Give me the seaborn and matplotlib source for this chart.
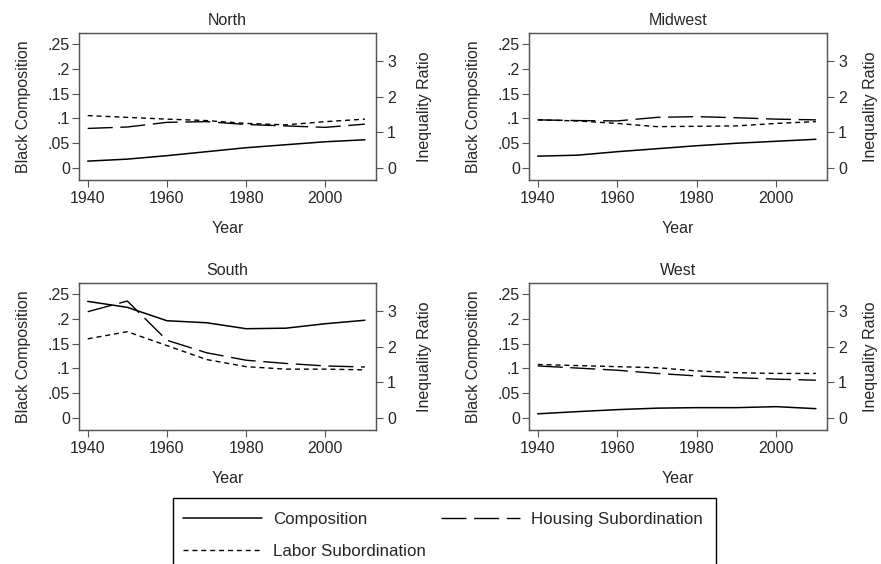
import matplotlib
matplotlib.use("Agg")
import matplotlib.pyplot as plt
import seaborn as sns
import pandas as pd
from matplotlib.lines import Line2D
from matplotlib.patches import Rectangle

sns.set_style("white")
plt.rcParams['font.family'] = ['Liberation Sans', 'DejaVu Sans']

years = [1940, 1950, 1960, 1970, 1980, 1990, 2000, 2010]
regions = ["North", "Midwest", "South", "West"]

north_comp = [0.014, 0.018, 0.025, 0.033, 0.041, 0.047, 0.053, 0.057]
north_housing = [1.11, 1.15, 1.28, 1.30, 1.22, 1.18, 1.14, 1.23]
north_labor = [1.47, 1.42, 1.37, 1.33, 1.25, 1.21, 1.30, 1.37]

midwest_comp = [0.024, 0.026, 0.033, 0.039, 0.045, 0.050, 0.054, 0.058]
midwest_housing = [1.35, 1.33, 1.32, 1.42, 1.44, 1.41, 1.37, 1.35]
midwest_labor = [1.35, 1.32, 1.25, 1.16, 1.17, 1.18, 1.25, 1.30]

south_comp = [0.235, 0.223, 0.196, 0.192, 0.180, 0.181, 0.190, 0.197]
south_housing = [2.98, 3.28, 2.18, 1.83, 1.62, 1.53, 1.46, 1.43]
south_labor = [2.22, 2.42, 2.03, 1.64, 1.44, 1.37, 1.37, 1.35]

west_comp = [0.0086, 0.013, 0.017, 0.020, 0.021, 0.021, 0.023, 0.019]
west_housing = [1.46, 1.40, 1.34, 1.25, 1.18, 1.13, 1.09, 1.06]
west_labor = [1.50, 1.47, 1.44, 1.41, 1.32, 1.27, 1.25, 1.25]

comp = {"North": north_comp, "Midwest": midwest_comp, "South": south_comp, "West": west_comp}
housing = {"North": north_housing, "Midwest": midwest_housing, "South": south_housing, "West": west_housing}
labor = {"North": north_labor, "Midwest": midwest_labor, "South": south_labor, "West": west_labor}

left_ticks = [0, 0.05, 0.1, 0.15, 0.2, 0.25]
left_ticklabels = ["0", ".05", ".1", ".15", ".2", ".25"]
right_ticks = [0, 1, 2, 3]
x_ticks = [1940, 1960, 1980, 2000]

W, H = 881, 564
fig = plt.figure(figsize=(W / 100, H / 100), dpi=100)

# axes boxes in pixels: left, top, right, bottom
boxes = {
    "North": (79, 33, 376, 180),
    "Midwest": (529, 33, 827, 180),
    "South": (79, 283, 376, 430),
    "West": (529, 283, 827, 430),
}

LONG = (18, 5.5)
SHORT = (3.6, 2.8)
spine_col = "#555555"
fs = 11.5

for reg in regions:
    l, t, r, b = boxes[reg]
    ax = fig.add_axes([l / W, 1 - b / H, (r - l) / W, (b - t) / H])
    ax2 = ax.twinx()
    df = pd.DataFrame({"Year": years, "comp": comp[reg],
                       "housing": housing[reg], "labor": labor[reg]})
    sns.lineplot(data=df, x="Year", y="comp", ax=ax, color="black", lw=1.1)
    sns.lineplot(data=df, x="Year", y="housing", ax=ax2, color="black", lw=1.0)
    ax2.lines[0].set_dashes(LONG)
    sns.lineplot(data=df, x="Year", y="labor", ax=ax2, color="black", lw=1.0)
    ax2.lines[1].set_dashes(SHORT)

    ax.set_xlim(1937.8, 2012.8)
    ax.set_ylim(-0.024, 0.272)
    ax2.set_ylim(-0.336, 3.785)
    ax.set_xticks(x_ticks)
    ax.set_yticks(left_ticks)
    ax.set_yticklabels(left_ticklabels)
    ax2.set_yticks(right_ticks)
    ax.set_title(reg, fontsize=fs, pad=5.5)
    ax.set_xlabel("Year", fontsize=fs, labelpad=10.5)
    ax.set_ylabel("Black Composition", fontsize=fs, labelpad=12)
    ax2.set_ylabel("Inequality Ratio", fontsize=fs,
                   labelpad=15 if l < 400 else 11.5)
    for a in (ax, ax2):
        a.tick_params(axis="both", which="major", direction="out", length=5,
                      width=0.8, color=spine_col, labelsize=fs, pad=3,
                      left=(a is ax), bottom=(a is ax), right=(a is ax2))
        for s in a.spines.values():
            s.set_color(spine_col)
            s.set_linewidth(0.9)
    ax.tick_params(axis="y", pad=1.5)
    ax.grid(False)
    ax2.grid(False)

handles = [
    Line2D([], [], color="black", lw=1.1, label="Composition"),
    Line2D([], [], color="black", lw=1.0, dashes=SHORT, label="Labor Subordination"),
    Line2D([], [], color="black", lw=1.0, dashes=LONG, label="Housing Subordination"),
]
leg = fig.legend(handles=handles, ncol=2, loc="upper left",
                 bbox_to_anchor=(173 / W, 1 - 502 / H),
                 fontsize=12.2, frameon=False, borderpad=0.6, handlelength=4.65,
                 handletextpad=0.65, columnspacing=0.9, labelspacing=0.99,
                 borderaxespad=0)
# legend frame (bottom edge lies below the figure, as in the reference)
fig.patches.append(Rectangle((173 / W, -0.1), (716 - 173) / W, 1 - 498 / H + 0.1,
                             transform=fig.transFigure, fill=False,
                             edgecolor="black", linewidth=1.0))

fig.savefig("out.png", dpi=100)
